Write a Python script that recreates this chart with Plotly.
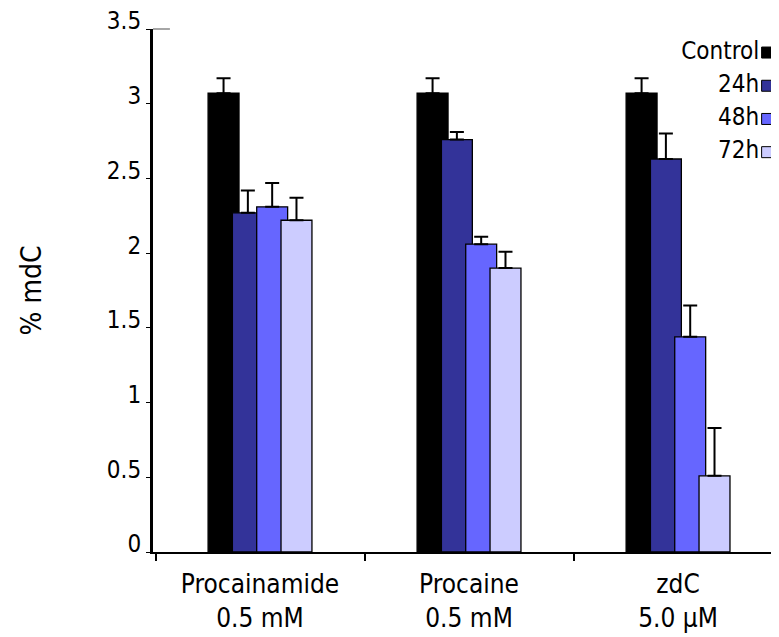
import plotly.graph_objects as go

# ---- data ----
categories = ["Procainamide<br>0.5 mM", "Procaine<br>0.5 mM", "zdC<br>5.0 \u03bcM"]
series_names = ["Control", "24h", "48h", "72h"]
control = [3.07, 3.07, 3.07]
h24 = [2.27, 2.76, 2.63]
h48 = [2.31, 2.06, 1.44]
h72 = [2.22, 1.90, 0.51]
control_err = [0.10, 0.10, 0.10]
h24_err = [0.15, 0.05, 0.17]
h48_err = [0.16, 0.05, 0.21]
h72_err = [0.15, 0.11, 0.32]
y_ticks = [0, 0.5, 1, 1.5, 2, 2.5, 3, 3.5]
y_ticktext = ["0", "0.5", "1", "1.5", "2", "2.5", "3", "3.5"]

values = [control, h24, h48, h72]
errors = [control_err, h24_err, h48_err, h72_err]
colors = ["#000000", "#333399", "#6666FF", "#CCCCFF"]

FONT = "DejaVu Sans Condensed, DejaVu Sans, sans-serif"

fig = go.Figure()

xpos = list(range(len(categories)))
bar_w = 0.148
step = 0.1163
n = len(series_names)
group_w = step * (n - 1) + bar_w
for i, (name, vals, errs, col) in enumerate(zip(series_names, values, errors, colors)):
    fig.add_trace(go.Bar(
        x=xpos, y=vals, name=name,
        width=bar_w, offset=-group_w / 2 + i * step,
        marker=dict(color=col, line=dict(color="#000000", width=1.3)),
        error_y=dict(type="data", array=errs, symmetric=False,
                     arrayminus=[0] * len(errs), color="#000000",
                     thickness=2, width=7),
        showlegend=False,
    ))

# custom legend (text left of the square marker), drawn on a hidden axis pair
leg_top = 0.955
leg_step = 0.0635
fig.add_trace(go.Scatter(
    x=[0.981] * n,
    y=[leg_top - i * leg_step for i in range(n)],
    mode="markers+text",
    text=series_names,
    textposition="middle left",
    textfont=dict(family=FONT, size=24, color="#000000"),
    marker=dict(symbol="square", size=11, color=colors,
                line=dict(color="#000000", width=1)),
    xaxis="x3", yaxis="y3", showlegend=False, hoverinfo="skip", cliponaxis=False,
))

fig.update_layout(
    width=771, height=629,
    margin=dict(l=145, r=0, t=21, b=85, autoexpand=False),
    paper_bgcolor="white", plot_bgcolor="rgba(0,0,0,0)",
    barmode="overlay",
    font=dict(family=FONT, color="#000000"),
    xaxis=dict(
        range=[-0.512, 2.483],
        tickvals=xpos, ticktext=categories, ticks="",
        tickfont=dict(family=FONT, size=26, color="#000000"),
        ticklabelstandoff=8, automargin=False,
        showline=True, linecolor="#000000", linewidth=2,
        showgrid=False, zeroline=False,
        minor=dict(tickvals=[p - 0.5 for p in xpos], ticks="outside",
                   ticklen=7, tickwidth=1.5, tickcolor="#000000", showgrid=False),
    ),
    yaxis=dict(
        range=[0, 3.5],
        tickvals=y_ticks, ticktext=y_ticktext,
        ticks="outside", ticklen=4, tickwidth=1, tickcolor="#000000",
        tickfont=dict(family=FONT, size=24, color="#000000"),
        ticklabelstandoff=0, ticklabelshift=-8, ticklabeloverflow="allow",
        automargin=False,
        showline=True, linecolor="#000000", linewidth=3,
        showgrid=False, zeroline=False,
        title=dict(text="% mdC", font=dict(family=FONT, size=28, color="#000000"),
                   standoff=58),
    ),
    xaxis3=dict(domain=[0, 1], range=[0, 1], visible=False, anchor="y3", fixedrange=True),
    yaxis3=dict(domain=[0, 1], range=[0, 1], visible=False, anchor="x3", fixedrange=True),
    shapes=[dict(type="line", xref="paper", yref="paper", x0=0, x1=0.027, y0=1, y1=1,
                 line=dict(color="#888888", width=1.5))],
)

fig.write_html("out.html")
